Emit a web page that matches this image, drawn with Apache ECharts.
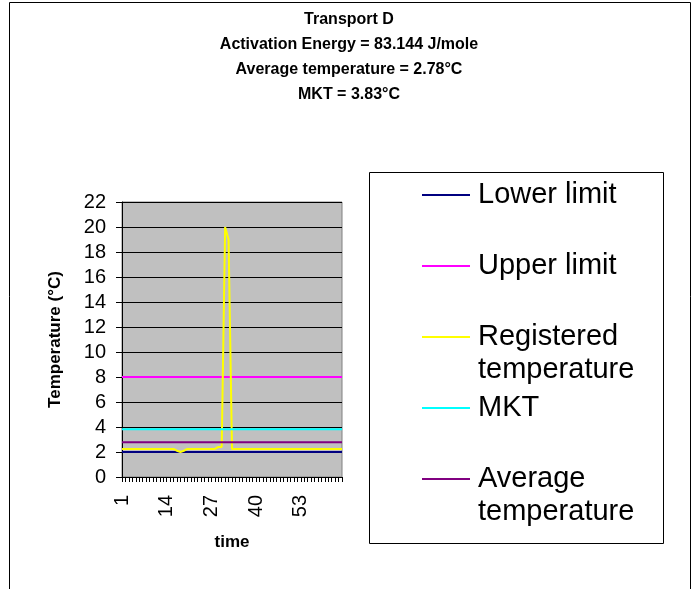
<!DOCTYPE html>
<html>
<head>
<meta charset="utf-8">
<script src="https://cdn.jsdelivr.net/npm/echarts@6.0.0/dist/echarts.min.js"></script>
<style>
  html, body { margin: 0; padding: 0; background: #fff; }
  #chart { width: 698px; height: 589px; }
</style>
</head>
<body>
<div id="chart"></div>
<script>
// Time index of each reading
const categories = [];
for (let i = 1; i <= 65; i++) categories.push(String(i));

// Logged temperature readings (°C)
const registered = [
  2.25, 2.25, 2.25, 2.25, 2.25, 2.25, 2.25, 2.25, 2.25, 2.25,
  2.25, 2.25, 2.25, 2.25, 2.25, 2.25, 2.1, 2.0, 2.1, 2.25,
  2.25, 2.25, 2.25, 2.25, 2.25, 2.25, 2.25, 2.25, 2.4, 2.4,
  20, 19, 2.25, 2.25, 2.25, 2.25, 2.25, 2.25, 2.25, 2.25,
  2.25, 2.25, 2.25, 2.25, 2.25, 2.25, 2.25, 2.25, 2.25, 2.25,
  2.25, 2.25, 2.25, 2.25, 2.25, 2.25, 2.25, 2.25, 2.25, 2.25,
  2.25, 2.25, 2.25, 2.25, 2.25
];

// Reference levels (°C)
const lowerLimit = 2;
const upperLimit = 8;
const mktValue = 3.83;
const averageValue = 2.78;

const seriesNames = ['Lower limit', 'Upper limit', 'Registered temperature', 'MKT', 'Average temperature'];
const seriesColors = ['#000080', '#FF00FF', '#FFFF00', '#00FFFF', '#800080'];
const legendLines = [
  ['Lower limit'],
  ['Upper limit'],
  ['Registered', 'temperature'],
  ['MKT'],
  ['Average', 'temperature']
];

const seriesData = [
  categories.map(() => lowerLimit),
  categories.map(() => upperLimit),
  registered,
  categories.map(() => mktValue),
  categories.map(() => averageValue)
];

const FONT = '"Liberation Sans", Arial, sans-serif';
const LEGEND_LH = 33;
const LEGEND_FIRST_Y = 197;   // centre of the first legend line
const LEGEND_STEP = 71;       // distance between entries

// One legend block per entry so each sits on its own row;
// two-line entries get a blank line above so the swatch lines up with the first line.
const legends = seriesNames.map((name, i) => {
  const lines = legendLines[i];
  const centre = LEGEND_FIRST_Y + LEGEND_STEP * i;
  const blockTop = lines.length > 1 ? centre - LEGEND_LH * 1.5 : centre - LEGEND_LH / 2;
  return {
    orient: 'vertical',
    left: 422,
    top: blockTop,
    padding: 0,
    itemWidth: 48,
    itemHeight: 2,
    icon: 'rect',
    data: [name],
    selectedMode: false,
    formatter: function () {
      const parts = [];
      if (lines.length > 1) parts.push('{e| }');
      lines.forEach(l => parts.push('{t|' + l + '}'));
      return parts.join('\n');
    },
    textStyle: {
      fontFamily: FONT,
      color: '#000',
      rich: {
        t: { fontFamily: FONT, fontSize: 29, lineHeight: LEGEND_LH, color: '#000', padding: [0, 0, 0, 3] },
        e: { fontFamily: FONT, fontSize: 29, lineHeight: LEGEND_LH }
      }
    }
  };
});

const chart = echarts.init(document.getElementById('chart'), null, { renderer: 'canvas' });

chart.setOption({
  backgroundColor: '#ffffff',
  animation: false,
  title: {
    text: 'Transport D\nActivation Energy = 83.144 J/mole\nAverage temperature = 2.78°C\nMKT = 3.83°C',
    left: 'center',
    top: 7,
    padding: 0,
    textStyle: {
      fontFamily: FONT,
      fontSize: 16,
      fontWeight: 'bold',
      color: '#000',
      lineHeight: 25
    }
  },
  graphic: [
    {
      type: 'rect',
      shape: { x: 9.5, y: 2.5, width: 681, height: 640 },
      style: { fill: 'none', stroke: '#000', lineWidth: 1 },
      silent: true
    },
    {
      type: 'rect',
      shape: { x: 369.5, y: 172.5, width: 294, height: 371 },
      style: { fill: 'none', stroke: '#000', lineWidth: 1 },
      silent: true
    }
  ],
  grid: {
    left: 122,
    top: 202,
    width: 220,
    height: 275,
    show: true,
    backgroundColor: '#C0C0C0',
    borderColor: '#808080',
    borderWidth: 1,
    containLabel: false,
    outerBoundsMode: 'none'
  },
  legend: legends,
  xAxis: {
    type: 'category',
    data: categories,
    boundaryGap: false,
    name: 'time',
    nameLocation: 'middle',
    nameGap: 57,
    nameTextStyle: { fontFamily: FONT, fontSize: 17, fontWeight: 'bold', color: '#000' },
    axisLine: { lineStyle: { color: '#000', width: 1 } },
    axisTick: { show: true, interval: 0, length: 5, lineStyle: { color: '#000' } },
    axisLabel: {
      interval: 12,
      rotate: 90,
      margin: 18,
      fontFamily: FONT,
      fontSize: 20,
      color: '#000'
    },
    splitLine: { show: false }
  },
  yAxis: {
    type: 'value',
    min: 0,
    max: 22,
    interval: 2,
    name: 'Temperature (°C)',
    nameLocation: 'middle',
    nameGap: 58,
    nameTextStyle: { fontFamily: FONT, fontSize: 17, fontWeight: 'bold', color: '#000' },
    axisLine: { show: true, lineStyle: { color: '#000', width: 1 } },
    axisTick: { show: true, length: 6, lineStyle: { color: '#000' } },
    axisLabel: { margin: 16, fontFamily: FONT, fontSize: 20, color: '#000' },
    splitLine: { show: true, lineStyle: { color: '#000', width: 1 } }
  },
  series: seriesNames.map((name, i) => ({
    name: name,
    type: 'line',
    data: seriesData[i],
    symbol: 'none',
    showSymbol: false,
    color: seriesColors[i],
    lineStyle: { color: seriesColors[i], width: 2 },
    itemStyle: { color: seriesColors[i] },
    z: 2 + i
  }))
});
</script>
</body>
</html>
